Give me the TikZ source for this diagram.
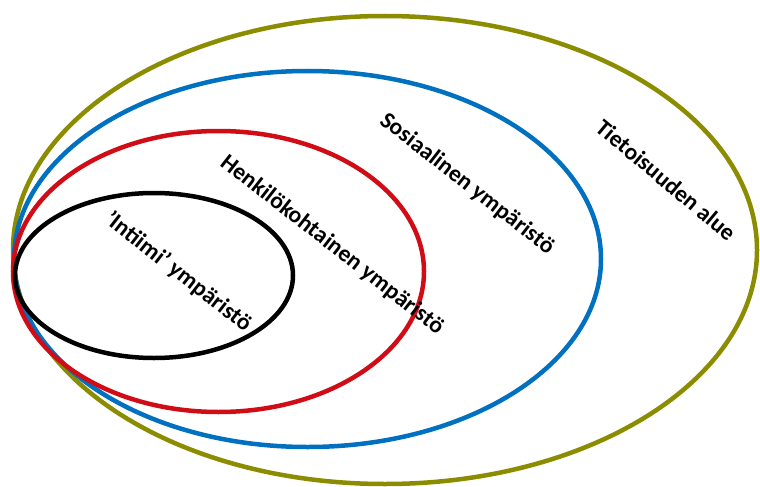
\documentclass[tikz,border=0pt]{standalone}
\usepackage{fontspec}
\setmainfont{Carlito}
\definecolor{oliveline}{RGB}{140,140,0}
\definecolor{blueline}{RGB}{0,112,192}
\definecolor{redline}{RGB}{208,12,22}
\begin{document}
\begin{tikzpicture}[x=1pt,y=-1pt] % pikselit, y alaspäin
\tikzstyle{ring} = [line width=4.5pt] % ellipsin viiva
\tikzstyle{areatext} = [font=\bfseries\fontsize{23.5}{26}\selectfont, inner sep=0pt] % alueen nimi
\useasboundingbox (0,0) rectangle (760,487);
\draw[ring, oliveline] (385,250) ellipse [x radius=372, y radius=234]; % tietoisuuden alue
\draw[ring, blueline] (307.5,259) ellipse [x radius=293.5, y radius=188]; % sosiaalinen
\draw[ring, redline] (218.5,271.5) ellipse [x radius=205.5, y radius=140.5]; % henkilökohtainen
\draw[ring, black] (154,275.5) ellipse [x radius=139, y radius=82.5]; % intiimi
\node[areatext, rotate=-40] (tieto) at (666,180) {Tietoisuuden alue};
\node[areatext, rotate=-38] (sosiaali) at (467,184) {Sosiaalinen ympäristö};
\node[areatext, rotate=-38] (henki) at (332,245) {Henkilökohtainen ympäristö};
\node[areatext, rotate=-38] (intiimi) at (178,272) {’Intiimi’ ympäristö};
\end{tikzpicture}
\end{document}
